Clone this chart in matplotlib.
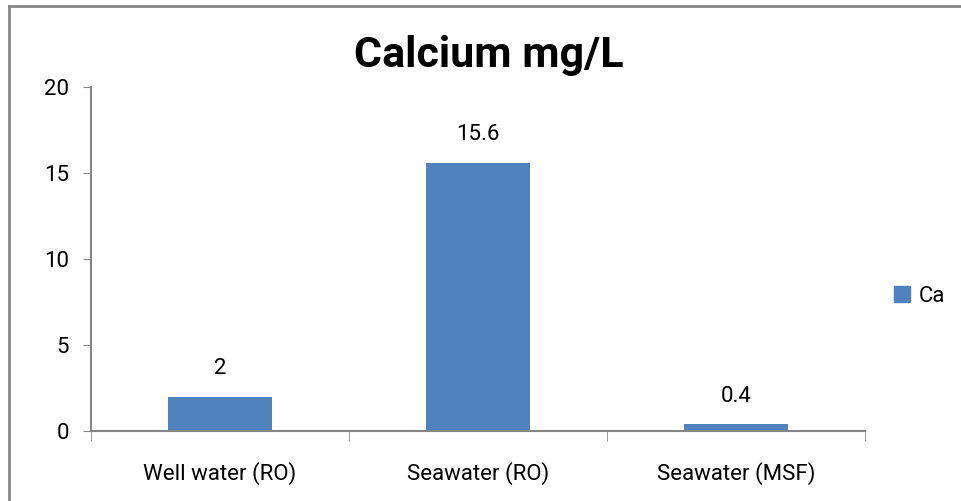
import matplotlib
matplotlib.use("Agg")
import matplotlib.pyplot as plt
from matplotlib.lines import Line2D
from matplotlib.patches import Patch

categories = ["Well water (RO)", "Seawater (RO)", "Seawater (MSF)"]
ca_values = [2, 15.6, 0.4]
y_ticks = [0, 5, 10, 15, 20]

plt.rcParams['font.family'] = ['Liberation Sans Narrow', 'Roboto', 'DejaVu Sans']

W, H = 961, 501
fig = plt.figure(figsize=(W / 100, H / 100), dpi=100)
ax = fig.add_axes([91 / W, 1 - 431 / H, (865 - 91) / W, (431 - 87) / H])

bar_color = "#4F81BD"
grey = "#868686"

x = list(range(len(categories)))
bars = ax.bar(x, ca_values, width=0.4, color=bar_color, zorder=2)
for b, v in zip(bars, ca_values):
    ax.annotate(f"{v:g}", (b.get_x() + b.get_width() / 2, v), xytext=(0, 20),
                textcoords="offset points", ha="center", va="center", fontsize=16)

ax.set_xlim(-0.5, len(categories) - 0.5)
ax.set_ylim(0, 20)
ax.set_yticks(y_ticks)
ax.set_xticks(x)
ax.set_xticklabels(categories, fontsize=16)
ax.tick_params(axis="x", length=0, pad=22)
ax.tick_params(axis="y", labelsize=16, length=6, color=grey, pad=10)
# category boundary ticks
ax.set_xticks([i - 0.5 for i in range(len(categories) + 1)], minor=True)
ax.tick_params(axis="x", which="minor", length=7, color=grey, direction="out")

for s in ["top", "right"]:
    ax.spines[s].set_visible(False)
for s in ["left", "bottom"]:
    ax.spines[s].set_color(grey)
    ax.spines[s].set_linewidth(1.5)

fig.text(489 / W, 1 - 56 / H, "Calcium mg/L", ha="center", va="center",
         fontsize=31, fontweight="bold")

ax.legend(handles=[Patch(color=bar_color, label="Ca")], loc="center left",
          bbox_to_anchor=(874 / W, 1 - 296 / H), bbox_transform=fig.transFigure,
          frameon=False, fontsize=16, handlelength=0.7, handleheight=0.7,
          handletextpad=0.4)

# chart frame (only top and left edges visible)
fig.add_artist(Line2D([9 / W, 9 / W], [0, 1 - 6 / H], color=grey, lw=2,
                      transform=fig.transFigure))
fig.add_artist(Line2D([9 / W, 1], [1 - 6 / H, 1 - 6 / H], color=grey, lw=2,
                      transform=fig.transFigure))

fig.savefig("out.png", dpi=100)
